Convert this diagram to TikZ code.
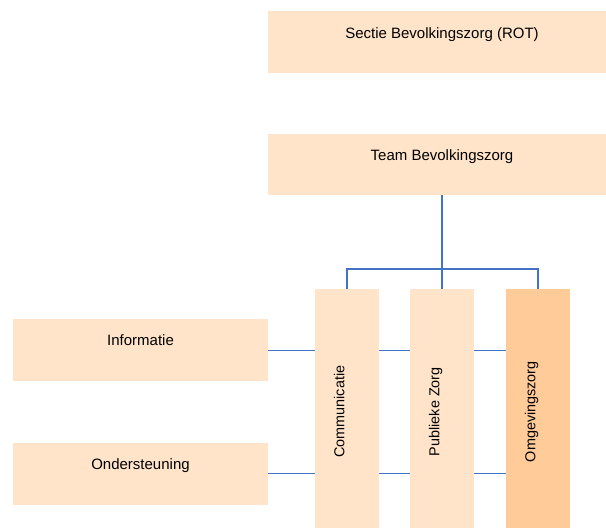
\documentclass[tikz,border=0pt]{standalone}
\usepackage{fontspec}
\setmainfont{Liberation Sans}
\usetikzlibrary{backgrounds}
\definecolor{boxlight}{HTML}{FFE4C9}
\definecolor{boxdark}{HTML}{FFCB99}
\definecolor{lineblue}{HTML}{4472C4}
\begin{document}
\begin{tikzpicture}[x=1bp,y=-1bp,
  box/.style={fill=boxlight, draw=none, inner sep=0pt, rectangle},
  darkbox/.style={box, fill=boxdark},
  lbl/.style={font=\fontsize{15bp}{18bp}\selectfont, inner sep=0pt, anchor=base, text=black},
  vlbl/.style={font=\fontsize{14.4bp}{17bp}\selectfont, inner sep=0pt, anchor=base, rotate=90, text=black},
  conn/.style={draw=lineblue, line width=1.3bp}]
\useasboundingbox (0,0) rectangle (606,528);
% boxes
\node[box, minimum width=338bp, minimum height=62bp] (sectie) at (437,42) {};
\node[box, minimum width=338bp, minimum height=61bp] (team) at (437,164.5) {};
\node[box, minimum width=255bp, minimum height=62bp] (info) at (140.5,350.3) {};
\node[box, minimum width=255bp, minimum height=62bp] (onder) at (140.5,473.7) {};
\node[box, minimum width=64bp, minimum height=239bp] (comm) at (347,408.5) {};
\node[box, minimum width=64bp, minimum height=239bp] (pub) at (442,408.5) {};
\node[darkbox, minimum width=64bp, minimum height=239bp] (omg) at (538,408.5) {};
% labels
\node[lbl] (tsectie) at (442,38.3) {Sectie Bevolkingszorg (ROT)};
\node[lbl] (tteam) at (442,161) {Team Bevolkingszorg};
\node[lbl] (tinfo) at (140.5,345.8) {Informatie};
\node[lbl] (tonder) at (140.5,469.5) {Ondersteuning};
\node[vlbl] (tcomm) at (344.3,411.7) {Communicatie};
\node[vlbl] (tpub) at (439.3,411.7) {Publieke Zorg};
\node[vlbl] (tomg) at (535.3,411.7) {Omgevingszorg};
% connectors
\coordinate (bus) at (442,269);
\begin{pgfonlayer}{background}
\draw[conn, line width=1.6bp] (team.south -| pub.north) -- (pub.north);
\draw[conn] (comm.north) -- (comm.north |- bus) -- (omg.north |- bus) -- (omg.north);
\draw[conn] (info.east) -- (omg.west |- info.east);
\draw[conn] (onder.east) -- (omg.west |- onder.east);
\end{pgfonlayer}
\end{tikzpicture}
\end{document}
